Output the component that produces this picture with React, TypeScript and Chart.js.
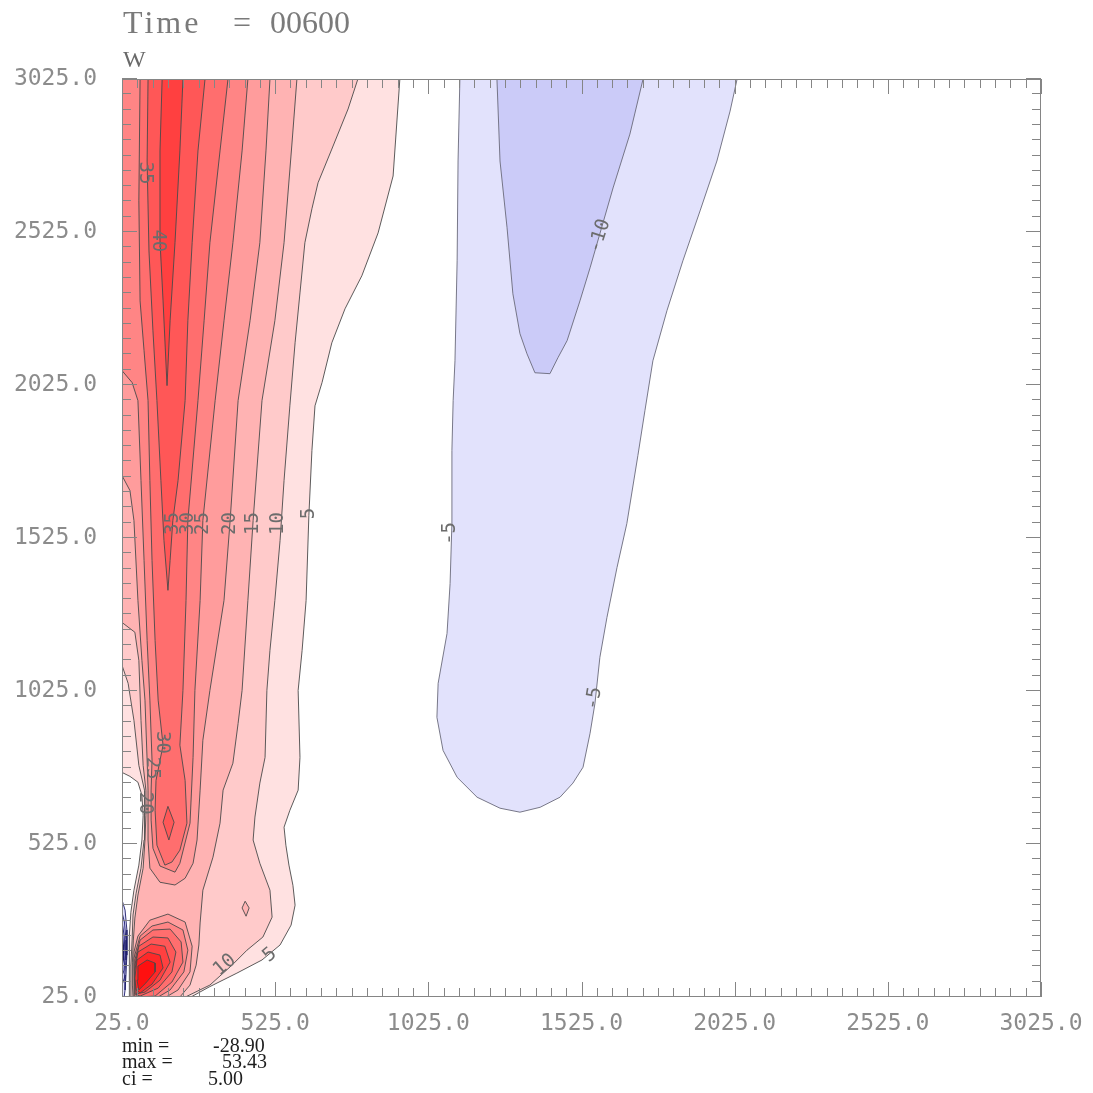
import React, { useEffect, useRef } from 'react';
import { Chart, registerables } from 'chart.js';

Chart.register(...registerables);

type Pt = [number, number];

// ---------- axes ----------
const axisMin = 25;
const axisMax = 3025;
const majorTickValues = [25, 525, 1025, 1525, 2025, 2525, 3025];
const minorTickStep = 50;

// ---------- texts ----------
const plotTitle = 'Time = 00600';
const fieldName = 'W';
const statNames = ['min =', 'max =', 'ci ='];
const statValues = ['-28.90', '53.43', '5.00'];

// ---------- contour regions (data units: x, height) ----------
// positive W (red), level >= 5
const w5: Pt[] = [
  [25, 3025], [932, 3025], [910, 2708], [861, 2522], [808, 2382], [753, 2274], [710, 2163], [678, 2033],
  [655, 1957], [645, 1811], [635, 1598], [626, 1321], [613, 1158], [600, 1027], [606, 808], [600, 701],
  [573, 635], [554, 580], [560, 521], [570, 456], [583, 390], [590, 325], [577, 260], [541, 195],
  [482, 146], [400, 103], [310, 58], [250, 25],
  [48, 25], [48, 64], [48, 146], [51, 227], [54, 302], [64, 374], [80, 456], [90, 538], [94, 619],
  [90, 684], [77, 727], [51, 746], [25, 759], [25, 3025],
];
const w10: Pt[] = [
  [25, 3025], [795, 3025], [763, 2927], [710, 2796], [665, 2686], [645, 2601], [622, 2490], [606, 2326],
  [590, 2163], [573, 1957], [554, 1713], [541, 1517], [524, 1321], [508, 1158], [498, 1027], [492, 808],
  [475, 724], [459, 613], [453, 538], [475, 462], [508, 374], [515, 286], [485, 221], [433, 178],
  [384, 129], [312, 64], [232, 25],
  [54, 25], [54, 64], [54, 129], [58, 211], [61, 293], [71, 364], [87, 446], [97, 538], [100, 619],
  [97, 701], [80, 782], [64, 929], [45, 1050], [25, 1109], [25, 3025],
];
const w15: Pt[] = [
  [25, 3025], [596, 3025], [580, 2816], [554, 2490], [524, 2235], [482, 1974], [453, 1582], [436, 1321],
  [417, 1027], [404, 919], [387, 789], [355, 701], [345, 593], [322, 482], [289, 374], [280, 267],
  [276, 195], [267, 129], [247, 64], [214, 25],
  [61, 25], [59, 64], [59, 139], [62, 211], [67, 283], [77, 358], [94, 446], [100, 538], [103, 619],
  [103, 701], [94, 782], [87, 929], [80, 1125], [67, 1217], [25, 1249], [25, 3025],
];
const w15Peak: Pt[] = [[427, 338], [440, 316], [430, 289], [417, 316], [427, 338]];
const w20: Pt[] = [
  [25, 3025], [508, 3025], [495, 2790], [475, 2490], [443, 2235], [404, 1974], [378, 1582], [358, 1321],
  [312, 1027], [289, 864], [280, 701], [270, 538], [257, 462], [231, 413], [198, 391], [149, 400],
  [116, 446], [110, 538], [110, 619], [110, 701], [107, 799], [100, 995], [90, 1125], [77, 1321],
  [64, 1582], [51, 1680], [25, 1729], [25, 3025],
];
const w25: Pt[] = [
  [25, 3025], [436, 3025], [417, 2790], [387, 2490], [358, 2235], [329, 1974], [289, 1582], [280, 1321],
  [263, 1027], [257, 808], [247, 593], [214, 462], [198, 433], [149, 453], [126, 511], [120, 603],
  [120, 701], [123, 799], [116, 995], [107, 1190], [97, 1452], [87, 1713], [77, 1974], [58, 2033],
  [25, 2072], [25, 3025],
];
const w30: Pt[] = [
  [84, 3025], [371, 3025], [345, 2790], [312, 2490], [293, 2235], [273, 1974], [240, 1582], [234, 1321],
  [224, 1027], [214, 848], [231, 733], [237, 593], [214, 505], [188, 466], [165, 456], [139, 521],
  [133, 635], [136, 733], [159, 848], [143, 995], [133, 1190], [123, 1452], [116, 1713], [110, 1974],
  [97, 2137], [84, 2300], [80, 2627], [84, 3025],
];
const w35: Pt[] = [
  [110, 3025], [296, 3025], [273, 2790], [254, 2490], [240, 2235], [231, 1974], [208, 1713], [191, 1582],
  [182, 1452], [175, 1354], [162, 1517], [152, 1713], [139, 1974], [126, 2202], [113, 2463], [107, 2757],
  [110, 3025],
];
const w35Blob: Pt[] = [[175, 648], [195, 596], [178, 538], [159, 596], [175, 648]];
const w40: Pt[] = [
  [156, 3025], [224, 3025], [214, 2790], [198, 2490], [182, 2235], [172, 2023], [159, 2300], [149, 2496],
  [149, 2790], [156, 3025],
];
// near-ground hot spot
const hot20: Pt[] = [
  [64, 172], [77, 224], [116, 276], [175, 296], [231, 270], [254, 191], [247, 107], [208, 48], [169, 25],
  [64, 25], [64, 172],
];
const hot25: Pt[] = [
  [64, 152], [84, 224], [123, 257], [175, 270], [224, 244], [240, 178], [227, 107], [182, 48], [143, 25],
  [67, 25], [64, 152],
];
const hot30: Pt[] = [
  [67, 146], [84, 211], [126, 244], [182, 247], [218, 205], [224, 139], [188, 74], [133, 28], [74, 25],
  [67, 146],
];
const hot35: Pt[] = [
  [67, 129], [80, 191], [126, 221], [175, 218], [201, 172], [188, 107], [143, 54], [84, 28], [67, 35],
  [67, 129],
];
const hot40: Pt[] = [
  [67, 113], [77, 172], [120, 198], [165, 191], [182, 139], [149, 80], [100, 41], [71, 35], [67, 113],
];
const hot45: Pt[] = [
  [67, 87], [74, 146], [110, 172], [149, 162], [159, 120], [123, 67], [84, 38], [71, 48], [67, 87],
];
const hot50: Pt[] = [
  [74, 80], [77, 126], [107, 146], [133, 136], [133, 107], [103, 71], [80, 48], [74, 80],
];

// negative W (blue)
const wNeg5: Pt[] = [
  [1128, 3025], [2033, 3025], [2010, 2920], [1967, 2757], [1912, 2594], [1856, 2431], [1804, 2268],
  [1758, 2104], [1732, 1941], [1709, 1794], [1673, 1572], [1641, 1429], [1608, 1265], [1585, 1135],
  [1569, 985], [1553, 887], [1530, 776], [1497, 724], [1455, 678], [1390, 645], [1324, 629], [1259, 642],
  [1184, 678], [1119, 743], [1073, 831], [1053, 939], [1057, 1050], [1086, 1213], [1096, 1376],
  [1102, 1572], [1102, 1811], [1106, 1974], [1112, 2104], [1119, 2431], [1122, 2757], [1128, 3025],
];
const wNeg10: Pt[] = [
  [1249, 3025], [1726, 3025], [1683, 2845], [1628, 2669], [1553, 2408], [1520, 2300], [1478, 2170],
  [1448, 2114], [1422, 2062], [1373, 2065], [1347, 2127], [1324, 2193], [1301, 2323], [1282, 2539],
  [1259, 2757], [1249, 3025],
];
const wallNeg5: Pt[] = [[25, 342], [35, 309], [41, 244], [41, 162], [38, 97], [35, 48], [32, 25], [25, 25], [25, 342]];
const wallNeg10: Pt[] = [[25, 302], [33, 270], [38, 211], [38, 146], [33, 87], [25, 64], [25, 302]];
const wallNeg15: Pt[] = [[25, 270], [32, 227], [35, 162], [32, 113], [25, 94], [25, 270]];
const wallNeg20: Pt[] = [[25, 237], [30, 195], [30, 146], [25, 126], [25, 237]];
const wallNeg25: Pt[] = [[25, 205], [28, 172], [25, 152], [25, 205]];

// contour labels (data units)
const contourLabels = [
  { x: 100, y: 2718, text: '35', angle: 90 },
  { x: 143, y: 2496, text: '40', angle: 90 },
  { x: 191, y: 1572, text: '35', angle: -90 },
  { x: 240, y: 1572, text: '30', angle: -90 },
  { x: 289, y: 1572, text: '25', angle: -90 },
  { x: 378, y: 1572, text: '20', angle: -90 },
  { x: 453, y: 1572, text: '15', angle: -90 },
  { x: 534, y: 1572, text: '10', angle: -90 },
  { x: 635, y: 1605, text: '5', angle: -90 },
  { x: 156, y: 857, text: '30', angle: 90 },
  { x: 123, y: 773, text: '25', angle: 90 },
  { x: 100, y: 658, text: '20', angle: 90 },
  { x: 361, y: 129, text: '10', angle: -40 },
  { x: 508, y: 162, text: '5', angle: -40 },
  { x: 1096, y: 1540, text: '-5', angle: -90 },
  { x: 1566, y: 1001, text: '-5', angle: -80 },
  { x: 1585, y: 2512, text: '-10', angle: -72 },
];

// ---------- styles ----------
const redFill: Record<number, string> = {
  5: '#ffe1e1', 10: '#ffcaca', 15: '#ffb3b3', 20: '#ff9c9c', 25: '#ff8585',
  30: '#ff6e6e', 35: '#ff5757', 40: '#ff4040', 45: '#ff2828', 50: '#ff1010',
};
const blueFill: Record<number, string> = {
  5: '#e2e2fc', 10: '#cbcbf8', 15: '#b3b3f3', 20: '#9c9cee', 25: '#8585ea',
};
const redLine = '#4a4a4a';
const blueLine = '#6a6a7a';
const wallLine = '#1c1c6a';

const regions: { pts: Pt[]; fill: string; line: string }[] = [
  { pts: w5, fill: redFill[5], line: redLine },
  { pts: w10, fill: redFill[10], line: redLine },
  { pts: w15, fill: redFill[15], line: redLine },
  { pts: w15Peak, fill: redFill[15], line: redLine },
  { pts: w20, fill: redFill[20], line: redLine },
  { pts: hot20, fill: redFill[20], line: redLine },
  { pts: w25, fill: redFill[25], line: redLine },
  { pts: hot25, fill: redFill[25], line: redLine },
  { pts: w30, fill: redFill[30], line: redLine },
  { pts: hot30, fill: redFill[30], line: redLine },
  { pts: w35, fill: redFill[35], line: redLine },
  { pts: w35Blob, fill: redFill[35], line: redLine },
  { pts: hot35, fill: redFill[35], line: redLine },
  { pts: w40, fill: redFill[40], line: redLine },
  { pts: hot40, fill: redFill[40], line: redLine },
  { pts: hot45, fill: redFill[45], line: redLine },
  { pts: hot50, fill: redFill[50], line: redLine },
  { pts: wNeg5, fill: blueFill[5], line: blueLine },
  { pts: wNeg10, fill: blueFill[10], line: blueLine },
  { pts: wallNeg5, fill: blueFill[5], line: wallLine },
  { pts: wallNeg10, fill: blueFill[10], line: wallLine },
  { pts: wallNeg15, fill: blueFill[15], line: wallLine },
  { pts: wallNeg20, fill: blueFill[20], line: wallLine },
  { pts: wallNeg25, fill: blueFill[25], line: wallLine },
];

const decorPlugin = {
  id: 'decor',
  afterDraw(chart: any) {
    const { ctx, chartArea: a, scales } = chart;
    const xs = scales.x;
    const ys = scales.y;

    // contour labels
    ctx.save();
    ctx.beginPath();
    ctx.rect(a.left, a.top, a.right - a.left, a.bottom - a.top);
    ctx.clip();
    ctx.font = '19px "DejaVu Sans Mono", monospace';
    ctx.fillStyle = '#6c6c6c';
    ctx.textAlign = 'center';
    ctx.textBaseline = 'middle';
    for (const l of contourLabels) {
      const px = xs.getPixelForValue(l.x);
      const py = ys.getPixelForValue(l.y);
      ctx.save();
      ctx.translate(px, py);
      ctx.rotate((l.angle * Math.PI) / 180);
      ctx.fillText(l.text, 0, 0);
      ctx.restore();
    }
    ctx.restore();

    // frame
    ctx.save();
    ctx.strokeStyle = '#858585';
    ctx.lineWidth = 1;
    ctx.strokeRect(a.left + 0.5, a.top + 0.5, a.right - a.left - 1, a.bottom - a.top - 1);

    // ticks (inward, all four sides)
    ctx.beginPath();
    for (let v = axisMin; v <= axisMax; v += minorTickStep) {
      const major = majorTickValues.includes(v);
      const len = major ? 15 : 9;
      const px = Math.round(xs.getPixelForValue(v)) + 0.5;
      const py = Math.round(ys.getPixelForValue(v)) - 0.5;
      ctx.moveTo(px, a.bottom);
      ctx.lineTo(px, a.bottom - len);
      ctx.moveTo(px, a.top);
      ctx.lineTo(px, a.top + len);
      ctx.moveTo(a.left, py);
      ctx.lineTo(a.left + len, py);
      ctx.moveTo(a.right, py);
      ctx.lineTo(a.right - len, py);
    }
    ctx.stroke();
    ctx.restore();

    // title and field name
    ctx.save();
    ctx.textAlign = 'left';
    ctx.textBaseline = 'alphabetic';
    ctx.fillStyle = '#7a7a7a';
    ctx.font = '32px "Liberation Serif", serif';
    const parts = plotTitle.split(' ');
    const partX = [123, 233, 270];
    const spacing = ['3px', '0px', '0px'];
    parts.forEach((p, i) => {
      (ctx as any).letterSpacing = spacing[i] ?? '0px';
      ctx.fillText(p, partX[i] ?? 123, 33);
    });
    (ctx as any).letterSpacing = '0px';
    ctx.fillStyle = '#6a6a6a';
    ctx.font = '24px "Liberation Serif", serif';
    ctx.fillText(fieldName, 123, 67);

    // statistics
    ctx.fillStyle = '#1e1e1e';
    ctx.font = '20px "Liberation Serif", serif';
    const baseY = [1052, 1068, 1085];
    const valX = [213, 222, 208];
    statNames.forEach((n, i) => {
      ctx.fillText(n, 122, baseY[i]);
      ctx.fillText(statValues[i], valX[i], baseY[i]);
    });
    ctx.restore();
  },
};

export default function App() {
  const ref = useRef<HTMLCanvasElement>(null);

  useEffect(() => {
    if (!ref.current) return;
    const datasets = regions.map((r, i) => ({
      type: 'line' as const,
      data: r.pts.map(([x, y]) => ({ x, y })),
      fill: 'shape',
      backgroundColor: r.fill,
      borderColor: r.line,
      borderWidth: 0.9,
      pointRadius: 0,
      pointHoverRadius: 0,
      tension: 0,
      clip: 0,
      order: regions.length - i,
    }));

    const tickFont = { family: '"DejaVu Sans Mono", monospace', size: 23 };

    const chart = new Chart(ref.current, {
      type: 'line',
      data: { datasets: datasets as any },
      options: {
        responsive: false,
        animation: false,
        devicePixelRatio: 1,
        events: [],
        layout: { padding: { left: 0, right: 52, top: 79, bottom: 0 } },
        plugins: {
          legend: { display: false },
          tooltip: { enabled: false },
          title: { display: false },
        },
        scales: {
          x: {
            type: 'linear',
            position: 'bottom',
            min: axisMin,
            max: axisMax,
            grid: { display: false, drawTicks: false },
            border: { display: false },
            afterBuildTicks: (s: any) => {
              s.ticks = majorTickValues.map((v) => ({ value: v }));
            },
            afterFit: (s: any) => {
              s.height = 96;
              s.paddingLeft = 0;
              s.paddingRight = 0;
            },
            ticks: {
              autoSkip: false,
              maxRotation: 0,
              minRotation: 0,
              padding: 13,
              color: '#8c8c8c',
              font: tickFont,
              callback: (v: any) => Number(v).toFixed(1),
            },
          },
          y: {
            type: 'linear',
            position: 'left',
            min: axisMin,
            max: axisMax,
            grid: { display: false, drawTicks: false },
            border: { display: false },
            afterBuildTicks: (s: any) => {
              s.ticks = majorTickValues.map((v) => ({ value: v }));
            },
            afterFit: (s: any) => {
              s.width = 122;
              s.paddingTop = 0;
              s.paddingBottom = 0;
            },
            ticks: {
              autoSkip: false,
              padding: 25,
              color: '#8c8c8c',
              font: tickFont,
              callback: (v: any) => Number(v).toFixed(1),
            },
          },
        },
      } as any,
      plugins: [decorPlugin],
    });

    return () => chart.destroy();
  }, []);

  return (
    <div style={{ position: 'absolute', left: 0, top: 0, width: 1093, height: 1093, background: '#ffffff' }}>
      <canvas ref={ref} width={1093} height={1093} style={{ display: 'block', width: 1093, height: 1093 }} />
    </div>
  );
}
